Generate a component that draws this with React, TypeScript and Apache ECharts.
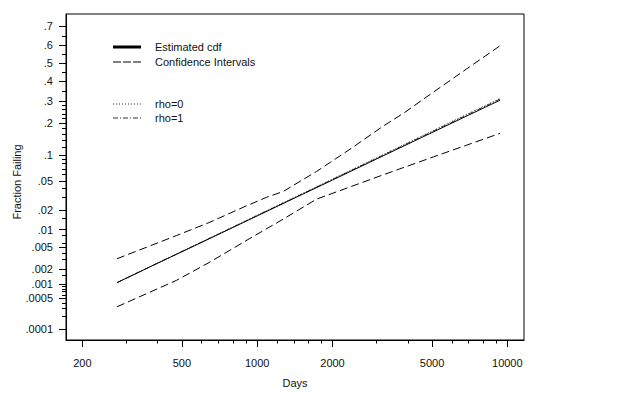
import React, { useEffect, useRef } from 'react';
import * as echarts from 'echarts';

// ---- data ----
const fitDays = [275, 400, 600, 1000, 1500, 2000, 3000, 5000, 7000, 9350];
const estimatedCdf = [0.001074, 0.00258, 0.00612, 0.01638, 0.0328, 0.0512, 0.0903, 0.1663, 0.2342, 0.3029];
const rho0Cdf = [0.00107, 0.0026, 0.00622, 0.01676, 0.0337, 0.0527, 0.0931, 0.1716, 0.2413, 0.3117];
const rho1Cdf = [0.00107, 0.00259, 0.00618, 0.0166, 0.0333, 0.0521, 0.092, 0.1693, 0.2385, 0.3082];

const upperDays = [275, 476, 647, 879, 1090, 1271, 1728, 2349, 3192, 3898, 5058, 6879, 9350];
const upperCI = [0.00312, 0.00798, 0.01309, 0.02197, 0.0304, 0.0365, 0.0652, 0.1146, 0.19, 0.247, 0.343, 0.469, 0.597];

const lowerDays = [275, 476, 647, 935, 1271, 1728, 2349, 3192, 5058, 6879, 9350];
const lowerCI = [0.000328, 0.001195, 0.00271, 0.00714, 0.01463, 0.0287, 0.0418, 0.0594, 0.0951, 0.1261, 0.1636];

const xMajorTicks = [200, 500, 1000, 2000, 5000, 10000];
const xMinorTicks = [300, 400, 600, 700, 800, 900, 1200, 1400, 1600, 1800, 3000, 4000, 6000, 7000, 8000, 9000];
const yMajorTicks = [0.7, 0.6, 0.5, 0.4, 0.3, 0.2, 0.1, 0.05, 0.02, 0.01, 0.005, 0.002, 0.001, 0.0005, 0.0001];
const yMajorLabels = ['.7', '.6', '.5', '.4', '.3', '.2', '.1', '.05', '.02', '.01', '.005', '.002', '.001', '.0005', '.0001'];
const yMinorTicks = [0.65, 0.55, 0.45, 0.35, 0.28, 0.26, 0.24, 0.22, 0.18, 0.16, 0.14, 0.12, 0.09, 0.08, 0.07, 0.06,
  0.04, 0.03, 0.015, 0.008, 0.006, 0.004, 0.003, 0.0015, 0.0009, 0.0008, 0.0007, 0.0006, 0.0004, 0.0003, 0.0002];

const xRange = [172, 11660];
const yRange = [0.000054, 0.755];

// inverse standard normal cdf (Acklam)
function probit(p: number): number {
  const a = [-3.969683028665376e1, 2.209460984245205e2, -2.759285104469687e2, 1.38357751867269e2, -3.066479806614716e1, 2.506628277459239];
  const b = [-5.447609879822406e1, 1.615858368580409e2, -1.556989798598866e2, 6.680131188771972e1, -1.328068155288572e1];
  const c = [-7.784894002430293e-3, -3.223964580411365e-1, -2.400758277161838, -2.549732539343734, 4.374664141464968, 2.938163982698783];
  const d = [7.784695709041462e-3, 3.224671290700398e-1, 2.445134137142996, 3.754408661907416];
  const pl = 0.02425;
  if (p < pl) {
    const q = Math.sqrt(-2 * Math.log(p));
    return (((((c[0] * q + c[1]) * q + c[2]) * q + c[3]) * q + c[4]) * q + c[5]) / ((((d[0] * q + d[1]) * q + d[2]) * q + d[3]) * q + 1);
  }
  if (p > 1 - pl) {
    const q = Math.sqrt(-2 * Math.log(1 - p));
    return -(((((c[0] * q + c[1]) * q + c[2]) * q + c[3]) * q + c[4]) * q + c[5]) / ((((d[0] * q + d[1]) * q + d[2]) * q + d[3]) * q + 1);
  }
  const q = p - 0.5;
  const r = q * q;
  return (((((a[0] * r + a[1]) * r + a[2]) * r + a[3]) * r + a[4]) * r + a[5]) * q / (((((b[0] * r + b[1]) * r + b[2]) * r + b[3]) * r + b[4]) * r + 1);
}

const toPts = (xs: number[], ps: number[]) => xs.map((x, i) => [Math.log10(x), probit(ps[i])]);

const FONT = '"Liberation Sans", Arial, Helvetica, sans-serif';
const INK = '#111';

export default function App() {
  const ref = useRef<HTMLDivElement>(null);
  useEffect(() => {
    if (!ref.current) return;
    const chart = echarts.init(ref.current, undefined, { renderer: 'svg' });
    const xMin = Math.log10(xRange[0]);
    const xMax = Math.log10(xRange[1]);
    const yMin = probit(yRange[0]);
    const yMax = probit(yRange[1]);
    const yMajZ = yMajorTicks.map(probit);
    const xMajL = xMajorTicks.map(Math.log10);

    const baseX = { type: 'value', min: xMin, max: xMax, position: 'bottom', splitLine: { show: false } };
    const baseY = { type: 'value', min: yMin, max: yMax, position: 'left', splitLine: { show: false } };

    chart.setOption({
      animation: false,
      grid: { left: 66, right: 94, top: 14, bottom: 51, show: true, borderColor: '#000', borderWidth: 1, backgroundColor: 'transparent' },
      xAxis: [
        {
          ...baseX,
          name: 'Days', nameLocation: 'middle', nameGap: 37,
          nameTextStyle: { fontFamily: FONT, fontSize: 11, color: INK },
          axisLine: { show: true, onZero: false, lineStyle: { color: '#000', width: 1 } },
          axisTick: { show: true, length: 7, customValues: xMajL, lineStyle: { color: '#000' } },
          axisLabel: {
            show: true, margin: 17, customValues: xMajL, fontFamily: FONT, fontSize: 11, color: INK,
            formatter: (v: number) => String(Math.round(Math.pow(10, v))),
          },
        },
        {
          ...baseX,
          axisLine: { show: false, onZero: false },
          axisTick: { show: true, length: 3.5, customValues: xMinorTicks.map(Math.log10), lineStyle: { color: '#000' } },
          axisLabel: { show: false },
        },
      ],
      yAxis: [
        {
          ...baseY,
          axisLine: { show: true, onZero: false, lineStyle: { color: '#000', width: 1 } },
          axisTick: { show: true, length: 7, customValues: yMajZ, lineStyle: { color: '#000' } },
          axisLabel: {
            show: true, margin: 13, customValues: yMajZ, fontFamily: FONT, fontSize: 11, color: INK,
            formatter: (v: number) => {
              const i = yMajZ.findIndex((z) => Math.abs(z - v) < 1e-4);
              return i >= 0 ? yMajorLabels[i] : '';
            },
          },
        },
        {
          ...baseY,
          axisLine: { show: false, onZero: false },
          axisTick: { show: true, length: 4, customValues: yMinorTicks.map(probit), lineStyle: { color: '#000' } },
          axisLabel: { show: false },
        },
      ],
      series: [
        {
          name: 'Confidence Intervals upper', type: 'line', xAxisIndex: 0, yAxisIndex: 0, symbol: 'none',
          data: toPts(upperDays, upperCI), lineStyle: { color: '#000', width: 1, type: [8, 4] },
        },
        {
          name: 'Confidence Intervals lower', type: 'line', xAxisIndex: 0, yAxisIndex: 0, symbol: 'none',
          data: toPts(lowerDays, lowerCI), lineStyle: { color: '#000', width: 1, type: [8, 4] },
        },
        {
          name: 'rho=0', type: 'line', xAxisIndex: 0, yAxisIndex: 0, symbol: 'none',
          data: toPts(fitDays, rho0Cdf), lineStyle: { color: '#333', width: 1, type: [1, 2] },
        },
        {
          name: 'rho=1', type: 'line', xAxisIndex: 0, yAxisIndex: 0, symbol: 'none',
          data: toPts(fitDays, rho1Cdf), lineStyle: { color: '#333', width: 1, type: [5, 2, 1, 2] },
        },
        {
          name: 'Estimated cdf', type: 'line', xAxisIndex: 0, yAxisIndex: 0, symbol: 'none',
          data: toPts(fitDays, estimatedCdf), lineStyle: { color: '#000', width: 1 },
        },
      ],
      graphic: [
        {
          type: 'text', x: 17, y: 182, rotation: Math.PI / 2,
          style: { text: 'Fraction Failing', fontFamily: FONT, fontSize: 11, fill: INK, align: 'center', verticalAlign: 'middle' },
        },
        { type: 'line', shape: { x1: 113, y1: 47, x2: 141, y2: 47 }, style: { stroke: '#000', lineWidth: 3 } },
        { type: 'text', x: 155, y: 47, style: { text: 'Estimated cdf', fontFamily: FONT, fontSize: 11, fill: INK, verticalAlign: 'middle' } },
        { type: 'line', shape: { x1: 113, y1: 62, x2: 141, y2: 62 }, style: { stroke: '#000', lineWidth: 1, lineDash: [8, 2] } },
        { type: 'text', x: 155, y: 62, style: { text: 'Confidence Intervals', fontFamily: FONT, fontSize: 11, fill: INK, verticalAlign: 'middle' } },
        { type: 'line', shape: { x1: 113, y1: 104, x2: 141, y2: 104 }, style: { stroke: '#333', lineWidth: 1, lineDash: [1, 2] } },
        { type: 'text', x: 155, y: 104, style: { text: 'rho=0', fontFamily: FONT, fontSize: 11, fill: INK, verticalAlign: 'middle' } },
        { type: 'line', shape: { x1: 113, y1: 118, x2: 141, y2: 118 }, style: { stroke: '#333', lineWidth: 1, lineDash: [5, 2, 1, 2] } },
        { type: 'text', x: 155, y: 118, style: { text: 'rho=1', fontFamily: FONT, fontSize: 11, fill: INK, verticalAlign: 'middle' } },
      ],
    });
    return () => chart.dispose();
  }, []);
  return (
    <div
      ref={ref}
      style={{ position: 'fixed', left: 0, top: 0, width: 618, height: 393, background: '#fff' }}
    />
  );
}
